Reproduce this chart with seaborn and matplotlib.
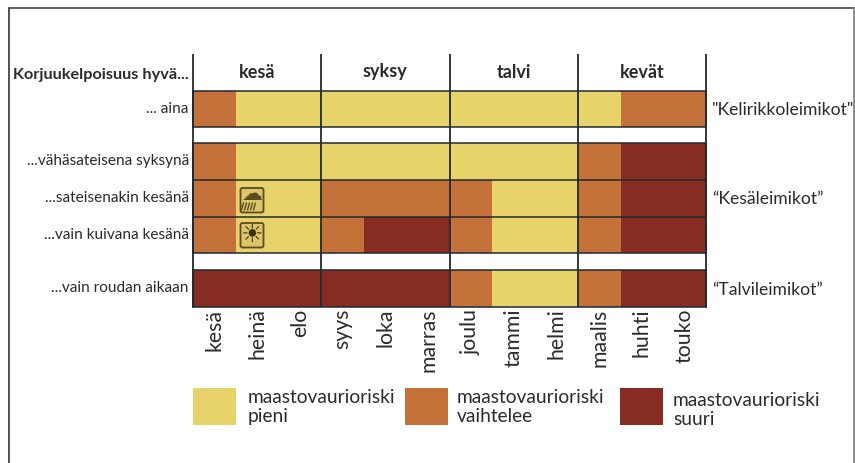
import numpy as np
import pandas as pd
import seaborn as sns
import matplotlib
matplotlib.use("Agg")
import matplotlib.pyplot as plt
from matplotlib.colors import ListedColormap
from matplotlib.patches import Rectangle, FancyBboxPatch

months = ["kesä", "heinä", "elo", "syys", "loka", "marras", "joulu", "tammi", "helmi", "maalis", "huhti", "touko"]
seasons = ["kesä", "syksy", "talvi", "kevät"]
row_always = ["... aina"]
rows_summer = ["...vähäsateisena syksynä", "...sateisenakin kesänä", "...vain kuivana kesänä"]
row_winter = ["...vain roudan aikaan"]
values_always = [[1, 0, 0, 0, 0, 0, 0, 0, 0, 0, 1, 1]]
values_summer = [[1, 0, 0, 0, 0, 0, 0, 0, 0, 1, 2, 2],
                 [1, 0, 0, 1, 1, 1, 1, 0, 0, 1, 2, 2],
                 [1, 0, 0, 1, 2, 2, 1, 0, 0, 1, 2, 2]]
values_winter = [[2, 2, 2, 2, 2, 2, 1, 0, 0, 1, 2, 2]]
group_labels = ['"Kelirikkoleimikot"', '“Kesäleimikot”', '“Talvileimikot”']
risk_labels = ["maastovaurioriski\npieni", "maastovaurioriski\nvaihtelee", "maastovaurioriski\nsuuri"]
colors = ["#E8D36B", "#C4713A", "#862C23"]

W, H = 855, 463
INK = "#2b2b2b"
LINE = "#1f2a30"
sns.set_theme(style="white")
plt.rcParams["font.family"] = ["Lato", "DejaVu Sans"]
fig = plt.figure(figsize=(W / 100, H / 100), dpi=100, facecolor="white")
cmap = ListedColormap(colors)


def axes_px(x0, y0, x1, y1, **kw):
    return fig.add_axes([x0 / W, 1 - y1 / H, (x1 - x0) / W, (y1 - y0) / H], **kw)


X0, X1 = 193, 706
blocks = [(91, 127, row_always, values_always), (143, 253.5, rows_summer, values_summer),
          (270, 306.5, row_winter, values_winter)]
for i, (y0, y1, rows, vals) in enumerate(blocks):
    ax = axes_px(X0, y0, X1, y1)
    df = pd.DataFrame(vals, index=rows, columns=months)
    sns.heatmap(df, ax=ax, cmap=cmap, vmin=-0.5, vmax=2.5, cbar=False,
                xticklabels=months if i == 2 else False, yticklabels=True)
    ax.set_xlabel("")
    ax.set_ylabel("")
    ax.tick_params(axis="y", length=0, pad=3, labelsize=11.1, labelcolor=INK, labelrotation=0)
    ax.tick_params(axis="x", length=0, pad=1.5, labelsize=15.3, labelcolor=INK, labelrotation=90)
    for s in ax.spines.values():
        s.set_visible(True)
        s.set_color(LINE)
        s.set_linewidth(1.1)
    for k in range(1, len(rows)):
        ax.axhline(k, color=LINE, lw=1.1)

# Overlay in pixel coordinates for the layout elements
ov = fig.add_axes([0, 0, 1, 1], facecolor="none")
ov.set_xlim(0, W)
ov.set_ylim(H, 0)
ov.axis("off")

season_w = (X1 - X0) / 4
for k in range(5):
    x = X0 + k * season_w
    ov.plot([x, x], [54, 306.5], color=LINE, lw=1.3, solid_capstyle="butt")
for k, s in enumerate(seasons):
    ov.text(X0 + (k + 0.5) * season_w, 72, s, ha="center", va="center",
            fontsize=13, fontweight="bold", color=INK)
ov.text(189, 75, "Korjuukelpoisuus hyvä...", ha="right", va="center",
        fontsize=11.7, fontweight="bold", color=INK)

for label, y in zip(group_labels, [110, 199.5, 290]):
    ov.text(712, y, label, ha="left", va="center", fontsize=12.6, color=INK)

# Weather icons
for y0 in (188, 223):
    ov.add_patch(FancyBboxPatch((240.5, y0), 23, 24.5, boxstyle="round,pad=0,rounding_size=2",
                                fc="#DCC566", ec="#5c4a22", lw=1.3))
ov.text(252, 193.5, "☁", ha="center", va="center", fontsize=15, color="#5c4a22",
        family="DejaVu Sans")
for dx in (-5, -2, 1, 4, 7):
    ov.plot([246 + dx + 2.5, 246 + dx + 0.5], [203, 210], color="#5c4a22", lw=1, transform=ov.transData)
ov.text(252, 235, "☀", ha="center", va="center", fontsize=18, color="#3a2f15",
        family="DejaVu Sans")

# Legend
for (x, tx, ty), c, lab in zip([(193, 248, 407), (404.5, 457, 407), (620, 673, 410)], colors, risk_labels):
    ov.add_patch(Rectangle((x, 388), 43, 37, fc=c, ec="none"))
    ov.text(tx, ty, lab, ha="left", va="center", fontsize=13.8, color=INK, linespacing=1.1)

# Outer frame
ov.plot([8.5, 8.5], [H, 7.5], color="#333333", lw=1.2)
ov.plot([8.5, 854], [7.5, 7.5], color="#444444", lw=1.2)
ov.plot([853.5, 853.5], [7.5, H], color="#888888", lw=2)

fig.savefig("out.png", dpi=100, facecolor="white")
